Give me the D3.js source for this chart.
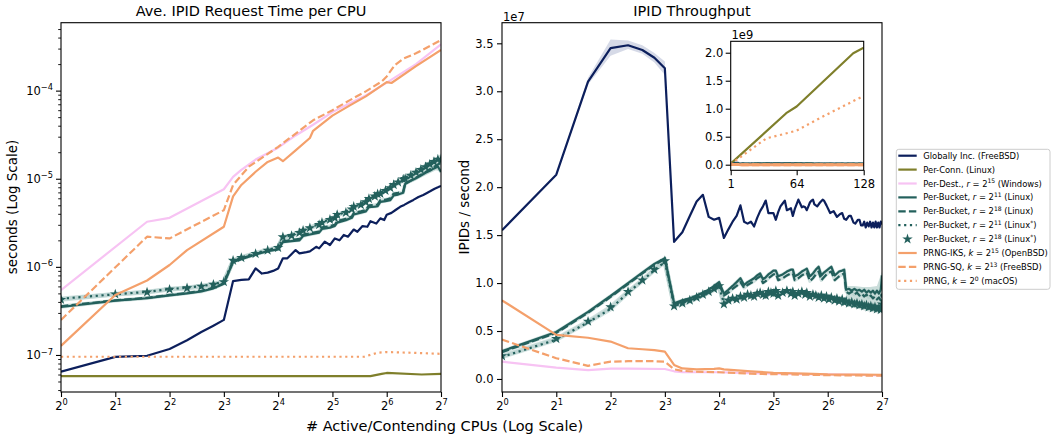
<!DOCTYPE html>
<html><head><meta charset="utf-8">
<script src="https://cdn.jsdelivr.net/npm/d3@7"></script>
<style>body{margin:0;background:#fff} svg{font-family:"DejaVu Sans",sans-serif;}</style>
</head><body><svg id="c" width="1057" height="441"></svg>
<script>
// ---------------- DATA ----------------
const xTicks = [1,2,4,8,16,32,64,128];
const xTickExp = ["0","1","2","3","4","5","6","7"];
const leftYTicks = [1e-7,1e-6,1e-5,1e-4];
const leftYTickExp = ["\u22127","\u22126","\u22125","\u22124"];
const rightYTicks = [0,0.5,1.0,1.5,2.0,2.5,3.0,3.5];
const insetYTicks = [0,0.5,1.0,1.5,2.0];
const insetXTicks = [1,64,128];

// Right panel: throughput (units of 1e7 IPIDs/s)
const navyX = [1,2,3,4,5,6,7,8,9,10,11,12,13,14,15,16,17,18,19,20,21,22,23,24,25,26,27,28,29,30,31,32,33,34,35,36,37,38,39,40,41,42,43,44,45,46,47,48,49,50,51,52,53,54,56,58,60,61,63,66,69,72,75,77,79,81,84,86,89,91,94,96,98,100,102,104,106,108,110,112,114,116,118,120,122,124,126,128];
const navyY = [1.55,2.13,3.10,3.45,3.48,3.43,3.35,3.24,1.43,1.53,
 1.70,1.85,1.92,1.69,1.66,1.68,1.47,1.56,1.64,1.70,
 1.81,1.64,1.62,1.64,1.59,1.68,1.75,1.80,1.86,1.73,
 1.73,1.73,1.66,1.74,1.80,1.83,1.86,1.76,1.77,1.78,
 1.70,1.77,1.82,1.87,1.83,1.79,1.80,1.79,1.76,1.80,
 1.84,1.86,1.87,1.82,
 1.80,1.84,1.87,1.86,1.81,
 1.73,1.75,1.69,1.72,1.73,
 1.67,1.66,1.70,1.70,1.63,
 1.62,1.66,1.66,1.60,1.60,
 1.64,1.58,1.63,1.59,1.64,
 1.58,1.63,1.58,1.64,1.58,
 1.63,1.58,1.64,1.61];
const navyBandX = [2,3,4,5,6,7,8,9];
const navyBandLo = [2.12,3.07,3.37,3.44,3.39,3.30,3.17,1.43];
const navyBandHi = [2.14,3.14,3.54,3.53,3.48,3.40,3.31,1.43];

const tealX = [1,2,3,4,5,6,7,8,9,10,11,12,13,14,15,16,17,18,19,20,21,22,23,24,25,26,27,28,29,30,31,32,33,34,36,38,40,41,42,44,46,48,49,51,53,55,57,59,61,63,65,67,70,72,74,77,79,81,84,87,90,93,96,99,102,105,108,111,114,117,120,123,126,127,128];
const tealA = [.29,.49,.70,.865,1.00,1.11,1.20,1.26,.79,.82,
 .84,.87,.90,.93,.97,1.01,.89,.93,.97,1.01,
 1.05,.98,1.01,1.03,1.05,1.08,1.10,1.04,1.06,1.09,
 1.11,1.13,1.13,1.07,
 1.09,1.12,1.14,1.14,1.07,
 1.09,1.12,1.14,1.15,1.07,
 1.10,1.14,1.17,1.08,1.11,
 1.13,1.15,1.17,1.08,1.10,
 1.12,1.13,1.14,.93,.94,
 .92,.94,.92,.93,.91,
 .93,.90,.92,.90,.92,
 .89,.92,.89,.93,1.00,
 1.08];
const tealB = [.28,.48,.69,.855,.99,1.10,1.19,1.25,.78,.80,
 .83,.86,.88,.91,.95,.99,.87,.90,.94,.97,
 1.01,.95,.98,1.00,1.02,1.05,1.07,1.00,1.02,1.05,
 1.07,1.09,1.10,1.03,
 1.05,1.08,1.10,1.10,1.03,
 1.05,1.08,1.10,1.11,1.02,
 1.05,1.09,1.12,1.03,1.06,
 1.09,1.11,1.12,1.03,1.05,
 1.07,1.09,1.10,.91,.89,
 .91,.88,.90,.87,.89,
 .86,.88,.85,.87,.84,
 .86,.83,.85,.82,.88,
 .85];
const tealC = [.23,.41,.59,.73,.90,1.025,1.137,1.22,.77,.78,
 .81,.84,.87,.90,.93,.96,.79,.81,.83,.85,
 .84,.86,.87,.86,.88,.89,.88,.87,.89,.90,
 .89,.91,.90,.88,
 .91,.90,.92,.90,.88,
 .91,.89,.90,.88,.87,
 .89,.86,.88,.85,.87,
 .84,.86,.83,.84,.82,
 .83,.81,.82,.79,.80,
 .78,.79,.77,.78,.76,
 .77,.75,.76,.74,.76,
 .73,.75,.73,.74,.72,
 .76];
const tealD = [.24,.42,.60,.75,.91,1.03,1.14,1.23,.76,.79,
 .82,.85,.88,.91,.94,.97,.78,.82,.84,.83,
 .86,.85,.88,.87,.86,.89,.90,.88,.87,.91,
 .90,.89,.92,.87,
 .90,.92,.89,.91,.87,
 .89,.91,.88,.90,.86,
 .88,.87,.85,.87,.84,
 .86,.83,.85,.82,.84,
 .81,.83,.80,.81,.79,
 .80,.78,.79,.77,.78,
 .76,.77,.75,.76,.74,
 .75,.73,.74,.72,.75,
 .78];
const tealBandX = [81,90,100,110,120,128];
const tealBandLo = [.76,.74,.72,.70,.69,.70];
const tealBandHi = [.97,.97,.96,.96,.97,1.12];

const pinkX = [1,2,3,4,5,8,9,10,12,16,24,32,48,64,96,128];
const pinkY = [.18,.118,.092,.108,.108,.104,.08,.072,.07,.07,.06,.056,.05,.047,.042,.038];
const orSolidX = [1,2,3,4,5,6,7,8,9,10,12,15,16,17,24,32,48,64,96,128];
const orSolidY = [.82,.46,.43,.39,.32,.31,.30,.285,.146,.11,.10,.105,.11,.10,.08,.065,.055,.047,.045,.044];
const orDashX = [1,2,3,4,5,6,7,8,9,10,12,16,24,32,48,64,96,128];
const orDashY = [.41,.216,.137,.18,.185,.185,.185,.18,.10,.085,.075,.07,.055,.05,.045,.04,.036,.034];

// Inset: throughput (units of 1e9)
const oliveInsetX = [1,54,64,118,128];
const oliveInsetY = [0.018,0.92,1.04,1.99,2.09];
const orDotInsetX = [1,35,48,64,89,128];
const orDotInsetY = [0.011,0.47,0.53,0.61,0.86,1.23];

// Left panel: seconds per request (values in microseconds)
const lNavyX = [1,2,3,4,5,6,7,8,9,10,11,12,13,14,15,16,17,18,20,21,23,24,26,27,29,31,33,35,37,39,42,44,47,50,52,56,59,62,64,68,72,76,80,85,90,96,102,107,112,118,124,128];
const lNavyY = [.0645,.095,.098,.117,.147,.182,.215,.25,.69,.71,.72,.96,.84,.86,.90,.96,1.25,1.25,1.55,1.42,1.47,1.50,1.69,1.62,1.93,1.77,2.1,2.0,2.3,2.2,2.65,2.5,2.9,2.85,3.3,3.1,3.55,3.4,3.9,4.1,4.45,4.8,5.05,5.4,5.75,6.2,6.55,6.9,7.25,7.7,8.05,8.3];
const lTealX = [1,2,3,4,5,6,7,8,9,10,12,14,16,17,19,21,22,24,27,28,31,33,34,38,41,42,46,49,51,55,57,59,63,67,70,74,79,81,87,93,99,105,111,117,123,128];
const lTealA = [.350,.413,.44,.475,.50,.525,.57,.645, 1.14,1.22,1.38,1.51,1.58, 1.91,1.96,2.00,2.24,2.33, 2.45,2.69,2.79,2.92,3.18, 3.39,3.60,3.93,4.11,4.26, 4.77,4.82,4.87,5.46,5.58, 5.73,6.48,6.61,6.93,8.71, 9.46,10.1,10.9,11.7,12.3, 13.1,13.8,11.9];
const lTealB = [.357,.417,.445,.48,.505,.535,.58,.650, 1.15,1.25,1.40,1.54,1.62, 1.95,2.02,2.08,2.32,2.40, 2.52,2.80,2.90,3.00,3.30, 3.52,3.73,4.08,4.26,4.41, 5.00,5.05,5.09,5.73,5.78, 5.98,6.80,6.92,7.18,8.90, 9.56,10.3,11.1,11.9,12.8, 13.6,14.5,15.1];
const lTealC = [.435,.488,.52,.56,.58,.605,.635,.68, 1.17,1.28,1.43,1.56,1.67, 2.15,2.29,2.50,2.56,2.79, 3.07,3.22,3.48,3.67,3.86, 4.22,4.56,4.77,5.17,5.57, 5.86,6.40,6.48,6.94,7.50, 8.07,8.33,8.92,9.63,10.25, 11.15,12.08,13.0,14.0,15.0, 16.0,16.8,16.8];
const lTealD = [.425,.49,.515,.555,.575,.60,.63,.675, 1.18,1.27,1.41,1.54,1.65, 2.18,2.26,2.44,2.59,2.76, 3.00,3.18,3.44,3.59,3.91, 4.13,4.51,4.83,5.05,5.44, 5.93,6.32,6.71,6.78,7.33, 7.88,8.54,9.14,9.88,10.0, 10.9,11.8,12.7,13.6,14.6, 15.6,16.6,16.4];
const lTealBandX = [81,90,100,110,120,128];
const lTealBandLo = [8.5,9.3,10.4,11.5,12.5,12.0];
const lTealBandHi = [10.6,12.0,13.5,15.0,16.5,19.5];
const lPinkX = [1,3,4,8,9,10,12,16,20,25,32,40,49,66,93,128];
const lPinkY = [.545,3.25,3.6,7.6,10.5,12.6,16.5,22.5,31,41,57,72,88,128,200,335];
const lOrDashX = [1,3,4,8,9,11,16,25,32,40,49,60,64,71,79,93,128];
const lOrDashY = [.25,2.2,2.1,4.4,8.5,13.7,23,46,60,78,98,127,145,195,230,265,375];
const lOrSolidX = [1,2,3,4,5,8,9,10,12,14,16,17,20,24,25,32,40,49,64,68,93,128];
const lOrSolidY = [.127,.48,.70,1.05,1.55,2.85,6.3,8.5,12,15.5,17.4,15.8,21,29,35,52,68,86,125,122,190,290];
const lOliveX = [1,52,60,64,100,128];
const lOliveY = [.0575,.0575,.061,.0625,.060,.061];
const lOrDotX = [1,48,57,64,100,128];
const lOrDotY = [.0955,.0955,.106,.108,.105,.103];

// ---------------- STYLE ----------------
const C = {navy:"#0c1f5c", olive:"#7f7f2b", pink:"#f7c3f3", teal:"#23605c", orange:"#f4a06b",
           navyBand:"#c4cadd", tealBand:"#b3cfcb"};
const LW = 2.2;
const DASH = "7.4,3.2", DOT = "2.2,3.6";
const TICKFS = 11.5;

const svg = d3.select("#c");
const zip = (xs, ys, k=1) => xs.map((x,i)=>[x, ys[i]*k]);

// ---------------- SCALES ----------------
const xL = d3.scaleLog().base(2).domain([1,128]).range([61,441]);
const yL = d3.scaleLog().domain([3.8e-8,5.9e-4]).range([392,22.7]);
const xR = d3.scaleLog().base(2).domain([1,128]).range([502,882]);
const yR = d3.scaleLinear().domain([-0.136,3.715]).range([392,22.7]);
const xI = d3.scaleLinear().domain([1,128]).range([730.7,863.7]);
const yI = d3.scaleLinear().domain([-0.1,2.204]).range([170.3,41.3]);

const defs = svg.append("defs");
function clip(id, x0, y0, x1, y1){
  defs.append("clipPath").attr("id",id).append("rect").attr("x",x0).attr("y",y0).attr("width",x1-x0).attr("height",y1-y0);
}
clip("cL",61,22.7,441,392); clip("cR",502,22.7,882,392); clip("cI",730.7,41.3,863.7,170.3);

function drawLine(g, data, X, Y, color, dash, width, opacity){
  g.append("path").datum(data)
    .attr("d", d3.line().x(d=>X(d[0])).y(d=>Y(d[1])))
    .attr("fill","none").attr("stroke",color).attr("stroke-width",width||LW)
    .attr("stroke-dasharray",dash||null).attr("stroke-linejoin","round")
    .attr("opacity", opacity==null?1:opacity);
}
function drawBand(g, xs, lo, hi, X, Y, color, k=1){
  const d = xs.map((x,i)=>[x, lo[i]*k, hi[i]*k]);
  g.append("path").datum(d)
    .attr("d", d3.area().x(d=>X(d[0])).y0(d=>Y(d[1])).y1(d=>Y(d[2])))
    .attr("fill",color).attr("opacity",0.7);
}
function drawStars(g, data, X, Y, color, size){
  g.selectAll(null).data(data).join("path")
    .attr("d", d3.symbol(d3.symbolStar, size||34)())
    .attr("transform", d=>`translate(${X(d[0])},${Y(d[1])})`)
    .attr("fill",color);
}
function sup(sel, base, s){
  sel.text(null);
  sel.append("tspan").text(base);
  sel.append("tspan").attr("dy","-0.55em").attr("font-size","72%").text(s);
}

// ---------------- LEFT PANEL ----------------
const gL = svg.append("g").attr("clip-path","url(#cL)");
const U = 1e-6;
drawLine(gL, zip(lNavyX,lNavyY,U), xL, yL, C.navy);
drawLine(gL, zip(lOliveX,lOliveY,U), xL, yL, C.olive);
drawLine(gL, zip(lPinkX,lPinkY,U), xL, yL, C.pink);
drawBand(gL, lTealBandX, lTealBandLo, lTealBandHi, xL, yL, C.tealBand, U);
[lTealA,lTealB].forEach(s=>drawLine(gL, zip(lTealX,s,U), xL, yL, C.tealBand, null, 3.4, 0.6));
[lTealC,lTealD].forEach(s=>drawLine(gL, zip(lTealX,s,U), xL, yL, C.tealBand, null, 4.5, 0.6));
drawLine(gL, zip(lTealX,lTealA,U), xL, yL, C.teal);
drawLine(gL, zip(lTealX,lTealB,U), xL, yL, C.teal, DASH);
drawLine(gL, zip(lTealX,lTealC,U), xL, yL, C.teal, DOT);
drawStars(gL, zip(lTealX,lTealD,U), xL, yL, C.teal);
drawLine(gL, zip(lOrSolidX,lOrSolidY,U), xL, yL, C.orange);
drawLine(gL, zip(lOrDashX,lOrDashY,U), xL, yL, C.orange, DASH);
drawLine(gL, zip(lOrDotX,lOrDotY,U), xL, yL, C.orange, DOT);

// ---------------- RIGHT PANEL ----------------
const gR = svg.append("g").attr("clip-path","url(#cR)");
drawBand(gR, navyBandX, navyBandLo, navyBandHi, xR, yR, C.navyBand);
drawLine(gR, zip(navyX,navyY), xR, yR, C.navy);
drawLine(gR, zip(pinkX,pinkY), xR, yR, C.pink);
drawBand(gR, tealBandX, tealBandLo, tealBandHi, xR, yR, C.tealBand);
[tealA,tealB].forEach(s=>drawLine(gR, zip(tealX,s), xR, yR, C.tealBand, null, 3.4, 0.6));
[tealC,tealD].forEach(s=>drawLine(gR, zip(tealX,s), xR, yR, C.tealBand, null, 4.5, 0.6));
drawLine(gR, zip(tealX,tealA), xR, yR, C.teal);
drawLine(gR, zip(tealX,tealB), xR, yR, C.teal, DASH);
drawLine(gR, zip(tealX,tealC), xR, yR, C.teal, DOT);
drawStars(gR, zip(tealX,tealD), xR, yR, C.teal);
drawLine(gR, zip(orSolidX,orSolidY), xR, yR, C.orange);
drawLine(gR, zip(orDashX,orDashY), xR, yR, C.orange, DASH);

// ---------------- AXES ----------------
function styleAxis(g){
  g.select(".domain").remove();
  g.selectAll(".tick line").attr("stroke","#000").attr("stroke-width",1.1);
  g.selectAll(".tick text").attr("font-size",TICKFS).attr("fill","#000").attr("font-family",'"DejaVu Sans",sans-serif');
}
function frame(x0,y0,x1,y1){
  svg.append("rect").attr("x",x0).attr("y",y0).attr("width",x1-x0).attr("height",y1-y0)
    .attr("fill","none").attr("stroke","#000").attr("stroke-width",1.1);
}
const axL = svg.append("g").attr("transform","translate(0,392)")
  .call(d3.axisBottom(xL).tickValues(xTicks).tickSize(5).tickPadding(4.5));
styleAxis(axL);
axL.selectAll(".tick text").each(function(d,i){ sup(d3.select(this),"2",xTickExp[i]); });
const axR = svg.append("g").attr("transform","translate(0,392)")
  .call(d3.axisBottom(xR).tickValues(xTicks).tickSize(5).tickPadding(4.5));
styleAxis(axR);
axR.selectAll(".tick text").each(function(d,i){ sup(d3.select(this),"2",xTickExp[i]); });
const ayL = svg.append("g").attr("transform","translate(61,0)")
  .call(d3.axisLeft(yL).tickValues(leftYTicks).tickSize(5).tickPadding(3));
styleAxis(ayL);
ayL.selectAll(".tick text").each(function(d,i){ sup(d3.select(this),"10",leftYTickExp[i]); });
const minor = [];
[-8,-7,-6,-5,-4].forEach(e=>{ for(let m=2;m<=9;m++){ const v=m*Math.pow(10,e); if(v>yL.domain()[0] && v<yL.domain()[1]) minor.push(v);} });
const ayLm = svg.append("g").attr("transform","translate(61,0)")
  .call(d3.axisLeft(yL).tickValues(minor).tickSize(2.8).tickFormat(""));
styleAxis(ayLm);
ayLm.selectAll(".tick line").attr("stroke-width",0.9);
const ayR = svg.append("g").attr("transform","translate(502,0)")
  .call(d3.axisLeft(yR).tickValues(rightYTicks).tickSize(5).tickPadding(3.5).tickFormat(d3.format(".1f")));
styleAxis(ayR);
frame(61,22.7,441,392); frame(502,22.7,882,392);
svg.append("text").attr("x",503).attr("y",20.5).attr("font-size",TICKFS).text("1e7");

// ---------------- INSET ----------------
svg.append("rect").attr("x",730.7).attr("y",41.3).attr("width",133).attr("height",129).attr("fill","#fff");
const gI = svg.append("g").attr("clip-path","url(#cI)");
const K = 0.01; // 1e7 -> 1e9
drawLine(gI, zip(navyX,navyY,K), xI, yI, C.navy);
drawLine(gI, zip(oliveInsetX,oliveInsetY), xI, yI, C.olive);
drawLine(gI, zip(pinkX,pinkY,K), xI, yI, C.pink);
drawLine(gI, zip(tealX,tealA,K), xI, yI, C.teal, null, 3);
drawLine(gI, zip(tealX,tealB,K), xI, yI, C.teal, DASH, 3);
drawLine(gI, zip(tealX,tealC,K), xI, yI, C.teal, DOT, 3);
drawLine(gI, zip(tealX,tealD,K), xI, yI, C.teal, null, 3);
drawLine(gI, zip(orSolidX,orSolidY,K), xI, yI, C.orange, null, 3);
drawLine(gI, zip(orDashX,orDashY,K), xI, yI, C.orange, DASH, 3);
drawLine(gI, zip(orDotInsetX,orDotInsetY), xI, yI, C.orange, DOT);
const axI = svg.append("g").attr("transform","translate(0,170.3)")
  .call(d3.axisBottom(xI).tickValues(insetXTicks).tickSize(5).tickPadding(4.5).tickFormat(d3.format("d")));
styleAxis(axI);
const ayI = svg.append("g").attr("transform","translate(730.7,0)")
  .call(d3.axisLeft(yI).tickValues(insetYTicks).tickSize(5).tickPadding(2.5).tickFormat(d3.format(".1f")));
styleAxis(ayI);
frame(730.7,41.3,863.7,170.3);
svg.append("text").attr("x",731.5).attr("y",38.5).attr("font-size",TICKFS).text("1e9");

// ---------------- TITLES / LABELS ----------------
svg.append("text").attr("x",251).attr("y",16).attr("text-anchor","middle").attr("font-size",14.5).text("Ave. IPID Request Time per CPU");
svg.append("text").attr("x",692).attr("y",16).attr("text-anchor","middle").attr("font-size",14.5).text("IPID Throughput");
svg.append("text").attr("x",444.5).attr("y",431).attr("text-anchor","middle").attr("font-size",14.5).text("# Active/Contending CPUs (Log Scale)");
svg.append("text").attr("transform","translate(17,207) rotate(-90)").attr("text-anchor","middle").attr("font-size",13.5).text("seconds (Log Scale)");
svg.append("text").attr("transform","translate(468.5,207) rotate(-90)").attr("text-anchor","middle").attr("font-size",13.5).text("IPIDs / second");

// ---------------- LEGEND ----------------
const legendItems = [
  {c:C.navy, d:null, parts:[["Globally Inc. (FreeBSD)"]]},
  {c:C.olive, d:null, parts:[["Per-Conn. (Linux)"]]},
  {c:C.pink, d:null, parts:[["Per-Dest., "],["r","i"],[" = 2"],["15","s"],[" (Windows)"]]},
  {c:C.teal, d:null, parts:[["Per-Bucket, "],["r","i"],[" = 2"],["11","s"],[" (Linux)"]]},
  {c:C.teal, d:DASH, parts:[["Per-Bucket, "],["r","i"],[" = 2"],["18","s"],[" (Linux)"]]},
  {c:C.teal, d:DOT, parts:[["Per-Bucket, "],["r","i"],[" = 2"],["11","s"],[" (Linux"],["*","s"],[")"]]},
  {c:C.teal, star:true, parts:[["Per-Bucket, "],["r","i"],[" = 2"],["18","s"],[" (Linux"],["*","s"],[")"]]},
  {c:C.orange, d:null, parts:[["PRNG-IKS, "],["k","i"],[" = 2"],["15","s"],[" (OpenBSD)"]]},
  {c:C.orange, d:DASH, parts:[["PRNG-SQ, "],["k","i"],[" = 2"],["13","s"],[" (FreeBSD)"]]},
  {c:C.orange, d:DOT, parts:[["PRNG, "],["k","i"],[" = 2"],["0","s"],[" (macOS)"]]}
];
const lg = svg.append("g");
lg.append("rect").attr("x",896.3).attr("y",149.3).attr("width",153.7).attr("height",140).attr("rx",2.5)
  .attr("fill","#fff").attr("stroke","#cccccc").attr("stroke-width",1);
const LFS = 8.4;
legendItems.forEach((it,i)=>{
  const y = 155.7 + i*13.9;
  if(it.star){
    lg.append("path").attr("d",d3.symbol(d3.symbolStar,34)()).attr("transform",`translate(907.5,${y})`).attr("fill",it.c);
  } else {
    lg.append("line").attr("x1",898.3).attr("x2",916.7).attr("y1",y).attr("y2",y)
      .attr("stroke",it.c).attr("stroke-width",LW).attr("stroke-dasharray",it.d);
  }
  const t = lg.append("text").attr("x",923.3).attr("y",y+3).attr("font-size",LFS);
  let raised = false;
  it.parts.forEach(p=>{
    const ts = t.append("tspan").text(p[0]);
    if(p[1]==="i") ts.attr("font-style","italic");
    if(p[1]==="s"){ ts.attr("font-size",LFS*0.72).attr("dy",-3.2); raised=true; }
    else if(raised){ ts.attr("dy",3.2); raised=false; }
  });
});
</script></body></html>
